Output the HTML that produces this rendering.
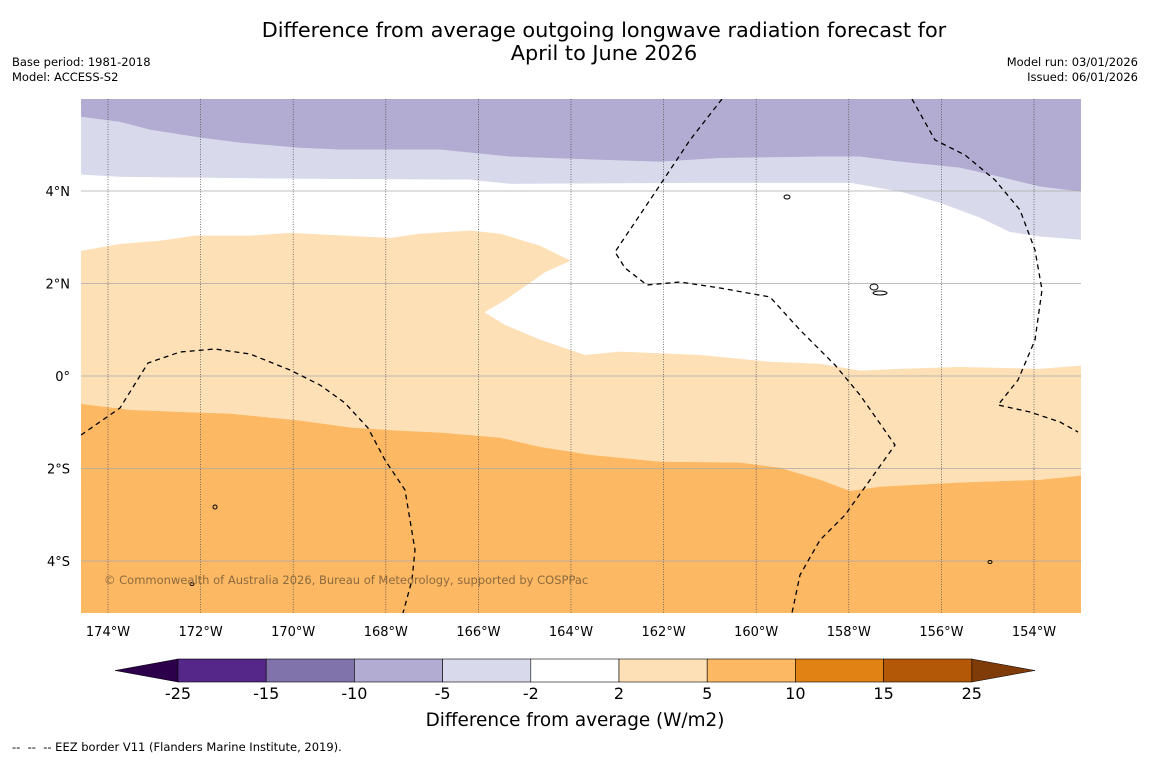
<!DOCTYPE html>
<html><head><meta charset="utf-8"><style>
body{margin:0;background:#fff;font-family:"DejaVu Sans","Liberation Sans",sans-serif}
#wrap{position:relative;width:1150px;height:758px;overflow:hidden;background:#fff}
.t{position:absolute;white-space:nowrap;color:#000}
svg text{font-family:"DejaVu Sans","Liberation Sans",sans-serif}
</style></head><body>
<div id="wrap">
<div class="t" style="left:0;width:1208px;top:19px;text-align:center;font-size:20.8px;line-height:23px">Difference from average outgoing longwave radiation forecast for<br>April to June 2026</div>
<div class="t" style="left:12px;top:55px;font-size:11.5px;line-height:15px">Base period: 1981-2018<br>Model: ACCESS-S2</div>
<div class="t" style="right:12px;top:55px;font-size:11.5px;line-height:15px;text-align:right">Model run: 03/01/2026<br>Issued: 06/01/2026</div>
<svg id="map" width="1150" height="758" style="position:absolute;left:0;top:0"></svg>
<div class="t" style="left:12px;top:740px;font-size:11.5px">-- &nbsp;-- &nbsp;-- EEZ border V11 (Flanders Marine Institute, 2019).</div>
</div>
<script>
// ---- data ----
const lonTicks=[-174,-172,-170,-168,-166,-164,-162,-160,-158,-156,-154];
const latTicks=[4,2,0,-2,-4];
const cbLevels=["-25","-15","-10","-5","-2","2","5","10","15","25"];
const cbColors=["#542788","#8073ac","#b2abd2","#d8daeb","#ffffff","#fee0b6","#fdb863","#e08214","#b35806"];
// contour boundaries [lon,lat]
const bnd10=[[-174.58,5.6],[-173.74,5.49],[-173.09,5.32],[-172.01,5.15],[-171.15,5.04],[-169.85,4.93],[-168.99,4.89],[-166.83,4.89],[-165.32,4.74],[-163.37,4.67],[-162.08,4.63],[-160.78,4.71],[-158.62,4.74],[-157.76,4.74],[-156.89,4.63],[-155.6,4.5],[-154.73,4.3],[-153.87,4.09],[-152.98,3.98]];
const bndM2=[[-174.58,4.35],[-173.74,4.3],[-169.85,4.26],[-166.18,4.24],[-165.32,4.15],[-161.21,4.17],[-157.97,4.17],[-156.89,3.98],[-156.03,3.74],[-155.17,3.42],[-154.52,3.11],[-153.87,3.01],[-152.98,2.94]];
const bndP2=[[-174.58,2.7],[-173.74,2.85],[-172.88,2.92],[-172.12,3.03],[-170.93,3.03],[-170.07,3.09],[-167.91,2.98],[-167.26,3.07],[-166.18,3.14],[-165.53,3.07],[-164.67,2.81],[-164.02,2.49],[-164.56,2.25],[-165.43,1.64],[-165.88,1.38],[-165.43,1.1],[-164.67,0.78],[-163.7,0.45],[-162.94,0.52],[-161.21,0.45],[-159.7,0.3],[-158.62,0.26],[-157.76,0.11],[-156.89,0.15],[-155.6,0.19],[-153.87,0.15],[-152.98,0.22]];
const bndP5=[[-174.58,-0.61],[-173.52,-0.74],[-172.01,-0.8],[-171.37,-0.82],[-169.85,-0.97],[-168.77,-1.12],[-167.69,-1.19],[-166.83,-1.23],[-165.53,-1.34],[-164.67,-1.54],[-163.59,-1.71],[-162.08,-1.86],[-160.35,-1.88],[-159.49,-1.99],[-158.62,-2.25],[-157.97,-2.49],[-157.33,-2.4],[-155.6,-2.31],[-153.87,-2.25],[-152.98,-2.16]];
// ---- axes ----
const X0=81,X1=1081,Y0=99,Y1=613;
const xs=lon=>108+(lon+174)*46.3;
const ys=lat=>376-lat*46.25;
const svg=document.getElementById('map');const NS='http://www.w3.org/2000/svg';
function mk(t,a,p){const e=document.createElementNS(NS,t);for(const k in a)e.setAttribute(k,a[k]);(p||svg).appendChild(e);return e;}
const clip=mk('clipPath',{id:'cp'});mk('rect',{x:X0,y:Y0,width:X1-X0,height:Y1-Y0},clip);
const g=mk('g',{'clip-path':'url(#cp)'});


const line=b=>b.map(p=>xs(p[0]).toFixed(1)+','+ys(p[1]).toFixed(1)).join(' L');
function band(top,bot,col,name){
  const topPart=top?('M'+line(top)):('M'+X0+','+Y0+' L'+X1+','+Y0);
  const botPart=bot?(' L'+line(bot.slice().reverse())):(' L'+X1+','+Y1+' L'+X0+','+Y1);
  const d=topPart+botPart+' Z';
  const e=mk('path',{d:d,fill:col,stroke:col,'stroke-width':0.5},g);
  
  
}
band(null,bnd10,'#b2abd2','band-minus10-minus5');
band(bnd10,bndM2,'#d8daeb','band-minus5-minus2');
band(bndM2,bndP2,'#ffffff','band-minus2-plus2');
band(bndP2,bndP5,'#fee0b6','band-plus2-plus5');
band(bndP5,null,'#fdb863','band-plus5-plus10');
// gridlines
lonTicks.forEach(l=>{const e=mk('line',{x1:xs(l),x2:xs(l),y1:Y0,y2:Y1,stroke:'#444','stroke-width':0.7,'stroke-dasharray':'1,1.5'},g);


const t=mk('text',{x:xs(l),y:636,'text-anchor':'middle','font-size':13});t.textContent=Math.abs(l)+'°W';

});
latTicks.forEach(l=>{const e=mk('line',{x1:X0,x2:X1,y1:ys(l),y2:ys(l),stroke:'#aaa','stroke-width':0.8},g);


const t=mk('text',{x:70,y:ys(l)+5,'text-anchor':'end','font-size':13});t.textContent=l===0?'0°':Math.abs(l)+'°'+(l>0?'N':'S');

});
// EEZ borders (map overlay)
const eez=[
"M81,435 L120,408 L148,363 L180,352 L215,349 L250,354 L290,370 L320,385 L345,403 L368,428 L385,460 L405,490 L415,550 L412,580 L403,613",
"M722,99 L690,140 L660,185 L615,252 L625,268 L647,285 L680,282 L720,288 L770,297 L800,330 L835,365 L860,395 L895,445 L870,480 L845,515 L820,540 L800,575 L792,613",
"M912,99 L935,140 L965,155 L995,180 L1020,210 L1035,250 L1042,290 L1035,340 L1018,380 L998,405 L1030,412 L1060,422 L1078,432"];
eez.forEach(d=>{const e=mk('path',{d:d,fill:'none',stroke:'#000','stroke-width':1.3,'stroke-dasharray':'5,4'},g);

});
[[787,197,3,2],[874,287,4,3],[880,293,7,2],[215,507,2,2],[192,584,2,1.5],[990,562,2,1.5]].forEach(a=>{const e=mk('ellipse',{cx:a[0],cy:a[1],rx:a[2],ry:a[3],fill:'none',stroke:'#000','stroke-width':1},g);

});
const cr=mk('text',{x:104,y:584,'font-size':11.5,fill:'#8b6a3e'},g);cr.textContent='© Commonwealth of Australia 2026, Bureau of Meteorology, supported by COSPPac';


// colorbar
const cb=mk('g',{});


const cbX0=178,cbW=88.2,cbY=659,cbH=23;
const lt=mk('polygon',{points:`115,670.5 ${cbX0},${cbY} ${cbX0},${cbY+cbH}`,fill:'#2d004b',stroke:'#000','stroke-width':0.5},cb);


const rx=cbX0+cbW*cbColors.length;
const rt=mk('polygon',{points:`${rx},${cbY} 1035,670.5 ${rx},${cbY+cbH}`,fill:'#7f3b08',stroke:'#000','stroke-width':0.5},cb);


cbColors.forEach((c,i)=>{const r=mk('rect',{x:cbX0+i*cbW,y:cbY,width:cbW,height:cbH,fill:c,stroke:'#000','stroke-width':0.6},cb);

});
cbLevels.forEach((s,i)=>{const t=mk('text',{x:cbX0+i*cbW,y:699,'text-anchor':'middle','font-size':16},cb);t.textContent=s;

});
const ct=mk('text',{x:575,y:726,'text-anchor':'middle','font-size':18.4},cb);ct.textContent='Difference from average (W/m2)';


</script>
</body></html>
